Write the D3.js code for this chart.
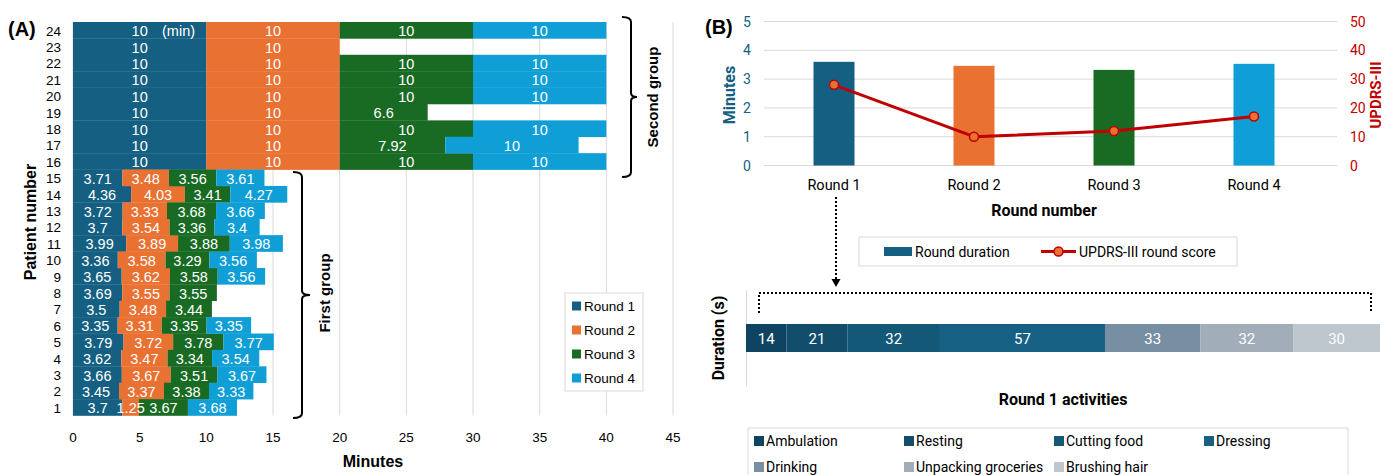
<!DOCTYPE html>
<html><head><meta charset="utf-8">
<script src="https://cdn.jsdelivr.net/npm/d3@7"></script>
<style>body{margin:0;background:#fff} svg{display:block}</style>
</head><body><svg id="c" width="1386" height="475"></svg>
<script>
// ---------- DATA (A) ----------
const patients = ["24","23","22","21","20","19","18","17","16","15","14","13","12","11","10","9","8","7","6","5","4","3","2","1"];
const round1 = [10,10,10,10,10,10,10,10,10, 3.71,4.36,3.72,3.7,3.99,3.36,3.65,3.69,3.5,3.35,3.79,3.62,3.66,3.45,3.7];
const round2 = [10,10,10,10,10,10,10,10,10, 3.48,4.03,3.33,3.54,3.89,3.58,3.62,3.55,3.48,3.31,3.72,3.47,3.67,3.37,1.25];
const round3 = [10,null,10,10,10,6.6,10,7.92,10, 3.56,3.41,3.68,3.36,3.88,3.29,3.58,3.55,3.44,3.35,3.78,3.34,3.51,3.38,3.67];
const round4 = [10,null,10,10,10,null,10,10,10, 3.61,4.27,3.66,3.4,3.98,3.56,3.56,null,null,3.35,3.77,3.54,3.67,3.33,3.68];
const seriesNames = ["Round 1","Round 2","Round 3","Round 4"];
const xTicksA = [0,5,10,15,20,25,30,35,40,45];
// ---------- DATA (B) ----------
const roundNames = ["Round 1","Round 2","Round 3","Round 4"];
const roundMinutes = [3.6,3.46,3.32,3.53];
const updrsScores = [28,10,12,17];
const yTicksLeft = [0,1,2,3,4,5];
const yTicksRight = [0,10,20,30,40,50];
const activities = ["Ambulation","Resting","Cutting food","Dressing","Drinking","Unpacking groceries","Brushing hair"];
const activityDurations = [14,21,32,57,33,32,30];

const roundColors = ["#156082","#E97132","#196B24","#0F9ED5"];
const activityColors = ["#0E4461","#124D6C","#145878","#166083","#788FA3","#A1AEBA","#BEC6CE"];

const svg = d3.select("#c");
const FA = "'Liberation Sans', Arial, sans-serif";
const FB = "Roboto, sans-serif";

// ================= CHART A =================
const xA = d3.scaleLinear().domain([0,45]).range([73,673]);
const yA = d3.scaleBand().domain(patients).range([22,415.5]).padding(0);

const gA = svg.append("g");
gA.selectAll("line.grid").data(xTicksA).join("line")
  .attr("x1", d=>xA(d)).attr("x2", d=>xA(d))
  .attr("y1", 22).attr("y2", 415.5)
  .attr("stroke", "#D9D9D9").attr("stroke-width", 1);

const rows = patients.map((p,i)=>({p, r0:round1[i], r1:round2[i], r2:round3[i], r3:round4[i]}));
const keys = ["r0","r1","r2","r3"];
const stack = d3.stack().keys(keys).value((d,k)=> d[k]==null?0:d[k]);
const stacked = stack(rows);

stacked.forEach((layer, li)=>{
  const g = gA.append("g");
  layer.forEach(seg=>{
    const v = seg.data[keys[li]];
    if (v==null) return;
    g.append("rect")
      .attr("x", xA(seg[0])).attr("width", xA(seg[1])-xA(seg[0]))
      .attr("y", yA(seg.data.p)).attr("height", yA.bandwidth()+0.3)
      .attr("fill", roundColors[li]);
  });
});
stacked.forEach((layer, li)=>{
  layer.forEach(seg=>{
    const v = seg.data[keys[li]];
    if (v==null) return;
    gA.append("text")
      .attr("x", (xA(seg[0])+xA(seg[1]))/2)
      .attr("y", yA(seg.data.p)+yA.bandwidth()/2+1)
      .attr("text-anchor","middle").attr("dominant-baseline","central")
      .attr("fill","#fff").attr("font-family",FA).attr("font-size",14.5)
      .text(String(v));
  });
});
gA.append("text").attr("x", 162).attr("y", yA("24")+yA.bandwidth()/2+1)
  .attr("dominant-baseline","central").attr("fill","#fff")
  .attr("font-family",FA).attr("font-size",14.5).text("(min)");

gA.selectAll("text.yt").data(patients).join("text")
  .attr("x", 61).attr("y", d=>yA(d)+yA.bandwidth()/2+1)
  .attr("text-anchor","end").attr("dominant-baseline","central")
  .attr("font-family",FA).attr("font-size",13.5).attr("fill","#000").text(d=>d);
gA.selectAll("text.xt").data(xTicksA).join("text")
  .attr("x", d=>xA(d)).attr("y", 437)
  .attr("text-anchor","middle").attr("dominant-baseline","central")
  .attr("font-family",FA).attr("font-size",13.5).attr("fill","#000").text(d=>d);
gA.append("text").attr("x", 373).attr("y", 461).attr("text-anchor","middle")
  .attr("dominant-baseline","central").attr("font-family",FA).attr("font-weight","bold")
  .attr("font-size",16).text("Minutes");
gA.append("text").attr("transform","translate(30,222) rotate(-90)").attr("text-anchor","middle")
  .attr("dominant-baseline","central").attr("font-family",FA).attr("font-weight","bold")
  .attr("font-size",16).text("Patient number");
gA.append("text").attr("x", 8).attr("y", 29).attr("dominant-baseline","central")
  .attr("font-family",FA).attr("font-weight","bold").attr("font-size",20).text("(A)");

function bracket(g, x, y0, y1, ym, tip){
  const p = `M${x-9},${y0} Q${x},${y0} ${x},${y0+5} L${x},${ym-4} Q${x},${ym} ${x+tip},${ym} Q${x},${ym} ${x},${ym+4} L${x},${y1-5} Q${x},${y1} ${x-9},${y1}`;
  g.append("path").attr("d", p).attr("fill","none").attr("stroke","#000").attr("stroke-width",2);
}
bracket(gA, 631, 17, 177, 97, 6);
gA.append("text").attr("transform","translate(652,97) rotate(-90)").attr("text-anchor","middle")
  .attr("dominant-baseline","central").attr("font-family",FA).attr("font-weight","bold")
  .attr("font-size",15).text("Second group");
bracket(gA, 302, 172, 418, 295, 8);
gA.append("text").attr("transform","translate(324,293) rotate(-90)").attr("text-anchor","middle")
  .attr("dominant-baseline","central").attr("font-family",FA).attr("font-weight","bold")
  .attr("font-size",15).text("First group");

const lgA = gA.append("g");
lgA.append("rect").attr("x",565).attr("y",293).attr("width",78).attr("height",98)
  .attr("fill","#fff").attr("stroke","#D9D9D9");
seriesNames.forEach((n,i)=>{
  const yy = 306 + i*24;
  lgA.append("rect").attr("x",572).attr("y",yy-4.5).attr("width",9).attr("height",9).attr("fill",roundColors[i]);
  lgA.append("text").attr("x",584).attr("y",yy).attr("dominant-baseline","central")
    .attr("font-family",FA).attr("font-size",13.5).text(n);
});

// ================= CHART B =================
const gB = svg.append("g");
const xB = d3.scaleBand().domain(roundNames).range([764,1324]).paddingInner(0).paddingOuter(0);
const yL = d3.scaleLinear().domain([0,5]).range([165.5,21.5]);
const yR = d3.scaleLinear().domain([0,50]).range([165.5,21.5]);

gB.selectAll("line.g").data(yTicksLeft).join("line")
  .attr("x1",764).attr("x2",1337).attr("y1",d=>yL(d)).attr("y2",d=>yL(d))
  .attr("stroke","#D9D9D9").attr("stroke-width",1);
const bw = 41;
gB.selectAll("rect.b").data(roundNames).join("rect")
  .attr("x", d=>xB(d)+xB.bandwidth()/2-bw/2).attr("width", bw)
  .attr("y", (d,i)=>yL(roundMinutes[i])).attr("height",(d,i)=>yL(0)-yL(roundMinutes[i]))
  .attr("fill",(d,i)=>roundColors[i]);
const line = d3.line().x((d,i)=>xB(roundNames[i])+xB.bandwidth()/2).y(d=>yR(d));
gB.append("path").attr("d", line(updrsScores)).attr("fill","none")
  .attr("stroke","#C00000").attr("stroke-width",3).attr("stroke-linejoin","round");
gB.selectAll("circle.m").data(updrsScores).join("circle")
  .attr("cx",(d,i)=>xB(roundNames[i])+xB.bandwidth()/2).attr("cy",d=>yR(d)).attr("r",4.5)
  .attr("fill","#E97132").attr("stroke","#C00000").attr("stroke-width",1.5);

gB.selectAll("text.yl").data(yTicksLeft).join("text")
  .attr("x",747).attr("y",d=>yL(d)).attr("text-anchor","middle").attr("dominant-baseline","central")
  .attr("font-family",FB).attr("font-size",14).attr("fill","#156082").text(d=>d);
gB.selectAll("text.yr").data(yTicksRight).join("text")
  .attr("x",1350).attr("y",d=>yR(d)).attr("text-anchor","start").attr("dominant-baseline","central")
  .attr("font-family",FB).attr("font-size",14).attr("fill","#C00000").text(d=>d);
gB.selectAll("text.xb").data(roundNames).join("text")
  .attr("x",d=>xB(d)+xB.bandwidth()/2).attr("y",185).attr("text-anchor","middle").attr("dominant-baseline","central")
  .attr("font-family",FB).attr("font-size",14.5).attr("fill","#000").text(d=>d);
gB.append("text").attr("x",1044).attr("y",210).attr("text-anchor","middle").attr("dominant-baseline","central")
  .attr("font-family",FB).attr("font-weight","bold").attr("font-size",16).text("Round number");
gB.append("text").attr("transform","translate(729,95) rotate(-90)").attr("text-anchor","middle")
  .attr("dominant-baseline","central").attr("font-family",FB).attr("font-weight","bold")
  .attr("font-size",16).attr("fill","#156082").text("Minutes");
gB.append("text").attr("transform","translate(1376,95) rotate(-90)").attr("text-anchor","middle")
  .attr("dominant-baseline","central").attr("font-family",FB).attr("font-weight","bold")
  .attr("font-size",15).attr("fill","#C00000").text("UPDRS-III");
gB.append("text").attr("x",705).attr("y",27).attr("dominant-baseline","central")
  .attr("font-family",FA).attr("font-weight","bold").attr("font-size",20).text("(B)");

gB.append("rect").attr("x",859).attr("y",237).attr("width",378).attr("height",29)
  .attr("fill","#fff").attr("stroke","#D9D9D9");
gB.append("rect").attr("x",884).attr("y",247).attr("width",28).attr("height",9).attr("fill",roundColors[0]);
gB.append("text").attr("x",915).attr("y",251.5).attr("dominant-baseline","central")
  .attr("font-family",FB).attr("font-size",14).text("Round duration");
gB.append("line").attr("x1",1041).attr("x2",1076).attr("y1",251.5).attr("y2",251.5)
  .attr("stroke","#C00000").attr("stroke-width",3);
gB.append("circle").attr("cx",1058.5).attr("cy",251.5).attr("r",4.5)
  .attr("fill","#E97132").attr("stroke","#C00000").attr("stroke-width",1.5);
gB.append("text").attr("x",1079).attr("y",251.5).attr("dominant-baseline","central")
  .attr("font-family",FB).attr("font-size",14).text("UPDRS-III round score");

const cx1 = xB(roundNames[0])+xB.bandwidth()/2 + 2;
gB.append("line").attr("x1",cx1).attr("x2",cx1).attr("y1",197).attr("y2",280)
  .attr("stroke","#000").attr("stroke-width",2).attr("stroke-dasharray","2,2");
gB.append("path").attr("d",`M${cx1-4.5},${279} L${cx1+4.5},${279} L${cx1},${287} Z`).attr("fill","#000");

const xS = d3.scaleLinear().domain([0, d3.sum(activityDurations)]).range([746,1380]);
const cum = d3.cumsum(activityDurations);
const segs = activityDurations.map((v,i)=>({v, a: i===0?0:cum[i-1], b: cum[i], i}));
gB.append("path").attr("d",`M759,313 L759,293 L1371,293 L1371,313`).attr("fill","none")
  .attr("stroke","#000").attr("stroke-width",2).attr("stroke-dasharray","2,2");
gB.append("line").attr("x1",746.5).attr("x2",746.5).attr("y1",290).attr("y2",386)
  .attr("stroke","#D9D9D9").attr("stroke-width",1);
gB.selectAll("rect.s").data(segs).join("rect")
  .attr("x",d=>xS(d.a)).attr("width",d=>xS(d.b)-xS(d.a)).attr("y",324).attr("height",28)
  .attr("fill",d=>activityColors[d.i]);
gB.selectAll("text.s").data(segs).join("text")
  .attr("x",d=>(xS(d.a)+xS(d.b))/2).attr("y",339).attr("text-anchor","middle").attr("dominant-baseline","central")
  .attr("font-family",FB).attr("font-size",15).attr("fill","#fff").text(d=>d.v);
gB.append("text").attr("transform","translate(718,338) rotate(-90)").attr("text-anchor","middle")
  .attr("dominant-baseline","central").attr("font-family",FB).attr("font-weight","bold")
  .attr("font-size",16).text("Duration (s)");
gB.append("text").attr("x",1063).attr("y",399).attr("text-anchor","middle").attr("dominant-baseline","central")
  .attr("font-family",FB).attr("font-weight","bold").attr("font-size",16).text("Round 1 activities");

gB.append("rect").attr("x",748).attr("y",428).attr("width",600).attr("height",60)
  .attr("fill","#fff").attr("stroke","#D9D9D9");
activities.forEach((n,i)=>{
  const col = i%4, row = Math.floor(i/4);
  const x0 = 754 + col*150, yy = 441 + row*26;
  gB.append("rect").attr("x",x0).attr("y",yy-5).attr("width",10).attr("height",10).attr("fill",activityColors[i]);
  gB.append("text").attr("x",x0+12).attr("y",yy).attr("dominant-baseline","central")
    .attr("font-family",FB).attr("font-size",14).text(n);
});
</script></body></html>
